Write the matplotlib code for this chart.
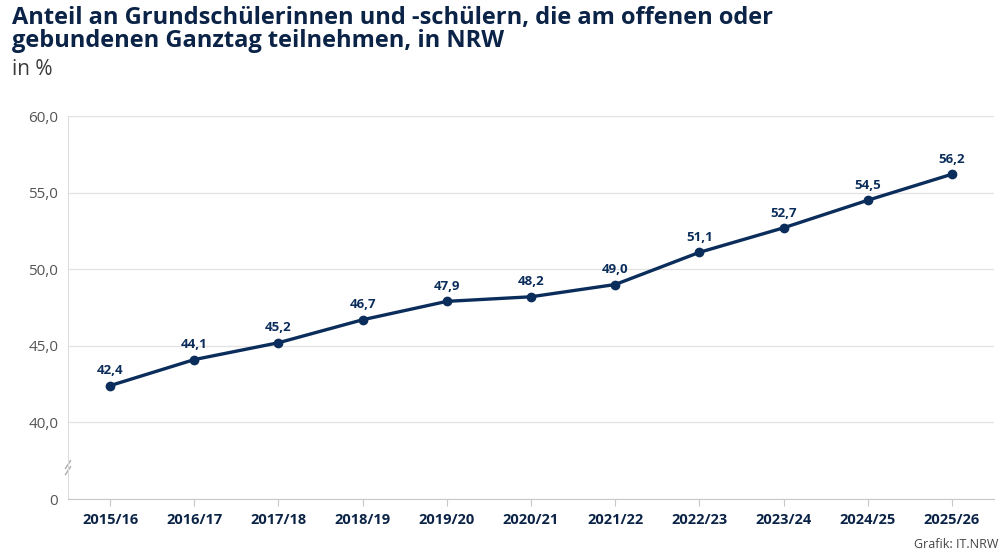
import matplotlib
matplotlib.use("Agg")
import matplotlib.pyplot as plt

plt.rcParams['font.family'] = ['Open Sans', 'DejaVu Sans']

jahre = ["2015/16", "2016/17", "2017/18", "2018/19", "2019/20", "2020/21",
         "2021/22", "2022/23", "2023/24", "2024/25", "2025/26"]
anteil = [42.4, 44.1, 45.2, 46.7, 47.9, 48.2, 49.0, 51.1, 52.7, 54.5, 56.2]
yticks = [35, 40, 45, 50, 55, 60]
ylabels = ["0", "40,0", "45,0", "50,0", "55,0", "60,0"]

navy = "#0b2d5b"
titel = "#0b2346"

fig = plt.figure(figsize=(9.99, 5.56), dpi=100)
ax = fig.add_axes([68/999, 1-499/556, (994-68)/999, (499-116)/556])

x = list(range(len(jahre)))
ax.plot(x, anteil, color=navy, lw=2.4, marker="o", ms=6, zorder=3)
for i, v in zip(x, anteil):
    ax.annotate(f"{v:.1f}".replace(".", ","), (i, v), xytext=(0, 6),
                textcoords="offset points", ha="center", va="bottom",
                fontsize=9.5, fontweight="bold", color=navy)

ax.set_xlim(-0.5, len(jahre)-0.5)
ax.set_ylim(35, 60)
ax.set_yticks(yticks)
ax.set_yticklabels(ylabels)
ax.set_xticks(x)
ax.set_xticklabels(jahre, fontweight="bold", color=titel, fontsize=10.5)
ax.grid(axis="y", color="#e2e2e2", lw=0.9)
ax.set_axisbelow(True)
for s in ["top", "right"]:
    ax.spines[s].set_visible(False)
ax.spines["left"].set_color("#dcdcdc")
ax.spines["bottom"].set_color("#c8c8c8")
ax.tick_params(axis="y", length=0, pad=7, labelsize=11, labelcolor="#555555")
ax.tick_params(axis="x", length=5, color="#c8c8c8", pad=5)

# Achsenbruch
ax.plot([-0.53, -0.47], [37.0, 37.5], color="#aaaaaa", lw=1, clip_on=False)
ax.plot([-0.53, -0.47], [36.6, 37.1], color="#aaaaaa", lw=1, clip_on=False)

fig.text(12/999, 1-6/556, "Anteil an Grundschülerinnen und -schülern, die am offenen oder\n"
         "gebundenen Ganztag teilnehmen, in NRW", ha="left", va="top",
         fontsize=17, fontweight="bold", color=titel, linespacing=0.95)
fig.text(12/999, 1-59/556, "in %", ha="left", va="top", fontsize=15, color="#3a3a3a")
fig.text(914/999, 1-544/556, "Grafik: IT.NRW", ha="left", va="center",
         fontsize=9, color="#444444")

fig.savefig("out.png", dpi=100)
